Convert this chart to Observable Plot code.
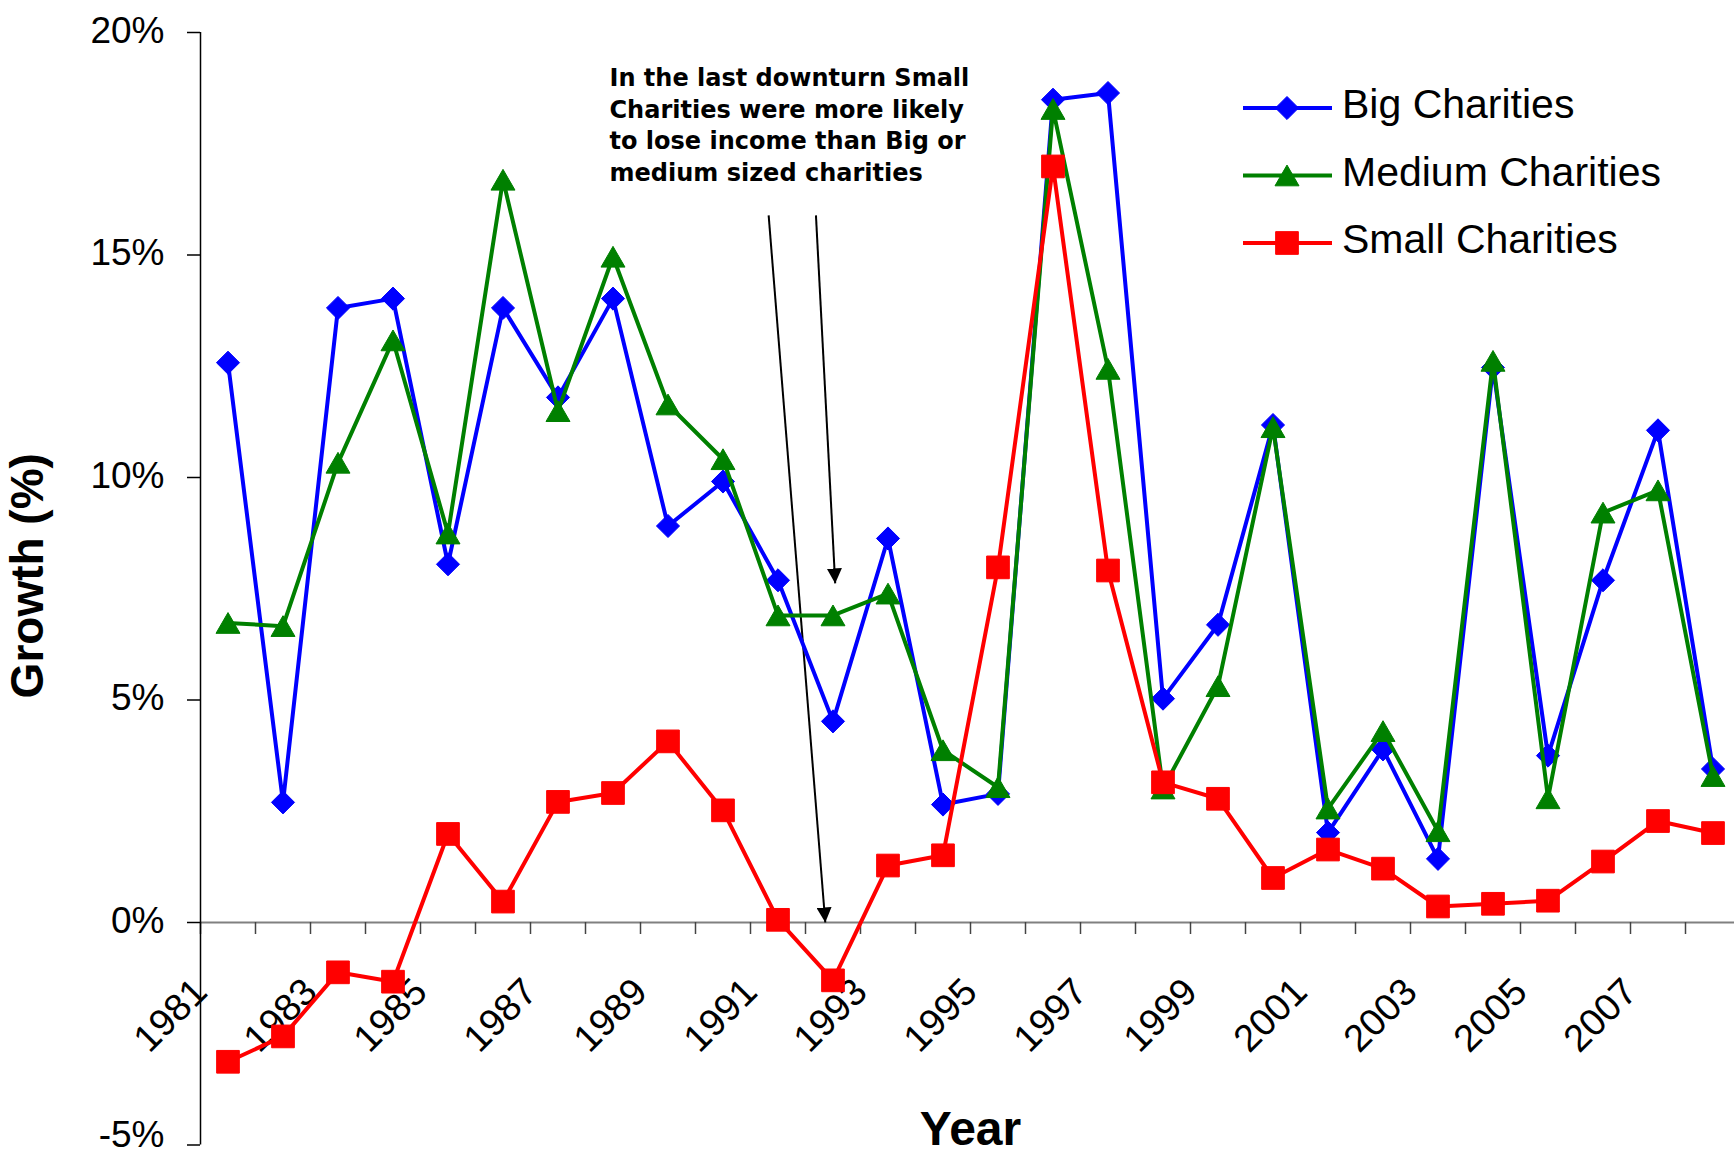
<!DOCTYPE html>
<html>
<head>
<meta charset="utf-8">
<script src="https://cdn.jsdelivr.net/npm/d3@7"></script>
<script src="https://cdn.jsdelivr.net/npm/@observablehq/plot@0.6"></script>
<style>
  html, body { margin: 0; padding: 0; background: #ffffff; }
  #chart svg { display: block; }
</style>
</head>
<body>
<div id="chart"></div>
<script>
// ---------- data ----------
const years = [1981, 1982, 1983, 1984, 1985, 1986, 1987, 1988, 1989, 1990,
               1991, 1992, 1993, 1994, 1995, 1996, 1997, 1998, 1999, 2000,
               2001, 2002, 2003, 2004, 2005, 2006, 2007, 2008];

const bigCharities    = [12.58, 2.70, 13.81, 14.02, 8.05, 13.81, 11.80, 14.02, 8.91, 9.91,
                         7.69, 4.52, 8.63, 2.65, 2.89, 18.49, 18.64, 5.03, 6.69, 11.18,
                         2.02, 3.89, 1.43, 12.47, 3.75, 7.69, 11.06, 3.45];
const mediumCharities = [6.73, 6.66, 10.33, 13.08, 8.74, 16.69, 11.49, 14.96, 11.64, 10.41,
                         6.90, 6.90, 7.39, 3.87, 3.04, 18.28, 12.44, 3.01, 5.31, 11.13,
                         2.56, 4.30, 2.05, 12.62, 2.79, 9.21, 9.71, 3.29];
const smallCharities  = [-3.13, -2.56, -1.12, -1.33, 1.99, 0.47, 2.71, 2.91, 4.07, 2.52,
                         0.06, -1.30, 1.28, 1.51, 7.98, 16.99, 7.91, 3.15, 2.78, 1.00,
                         1.64, 1.21, 0.36, 0.42, 0.49, 1.37, 2.28, 2.01];

const seriesNames   = ["Big Charities", "Medium Charities", "Small Charities"];
const seriesColors  = ["#0000FF", "#008000", "#FF0000"];
const seriesSymbols = ["diamond2", "triangle", "square"];

const tickYears  = [1981, 1982, 1983, 1984, 1985, 1986, 1987, 1988, 1989, 1990,
                    1991, 1992, 1993, 1994, 1995, 1996, 1997, 1998, 1999, 2000,
                    2001, 2002, 2003, 2004, 2005, 2006, 2007, 2008, 2009];
const labelYears = [1981, 1983, 1985, 1987, 1989, 1991, 1993, 1995, 1997, 1999,
                    2001, 2003, 2005, 2007];
const yTicks = [-5, 0, 5, 10, 15, 20];

const annotationText = "In the last downturn Small\nCharities were more likely\nto lose income than Big or\nmedium sized charities";
const arrowStartYear  = [1991.33, 1992.19];
const arrowStartValue = [15.89, 15.89];
const arrowEndYear    = [1992.36, 1992.54];
const arrowEndValue   = [0.0, 7.62];

// ---------- build ----------
const seriesValues = [bigCharities, mediumCharities, smallCharities];
const markerR  = [10.4, 8.9, 12.8];
const markerDy = [0, 3.4, 0];
const lineW = 4;

const seriesMarks = seriesNames.flatMap((name, s) => {
  const rows = years.map((year, i) => ({series: name, year, value: seriesValues[s][i]}));
  return [
    Plot.line(rows, {x: d => d.year + 0.5, y: "value", stroke: seriesColors[s], strokeWidth: lineW, strokeLinejoin: "miter"}),
    Plot.dot(rows, {x: d => d.year + 0.5, y: "value", symbol: seriesSymbols[s], r: markerR[s],
      fill: seriesColors[s], stroke: seriesColors[s], strokeWidth: 1, dy: markerDy[s]})
  ];
});

const arrows = arrowStartYear.map((x1, i) => ({x1, y1: arrowStartValue[i], x2: arrowEndYear[i], y2: arrowEndValue[i]}));

const chart = Plot.plot({
  width: 1734,
  height: 1154,
  marginLeft: 200,
  marginRight: 0,
  marginTop: 32,
  marginBottom: 9.5,
  style: {fontFamily: "'Liberation Sans', Arial, sans-serif", fontSize: "37px", background: "#ffffff", color: "#000"},
  x: {domain: [1981, 2009], range: [200, 1740], axis: null},
  y: {domain: [-5, 20], axis: null},
  marks: [
    // zero line with category ticks
    Plot.ruleY([0], {stroke: "#808080", strokeWidth: 2}),
    Plot.ruleX(tickYears, {x: d => d, y1: 0, y2: 0, insetBottom: -12, stroke: "#444", strokeWidth: 1.5}),
    // y axis line, ticks, labels
    Plot.ruleX([1981], {stroke: "#000", strokeWidth: 1.5}),
    Plot.ruleY(yTicks, {y: d => d, x1: 1981, x2: 1981, insetLeft: -13, stroke: "#000", strokeWidth: 1.5}),
    Plot.text(yTicks.filter(d => d > -5), {x: 1981, y: d => d, text: d => `${d}%`, textAnchor: "end", dx: -36, dy: -1.5, fontSize: 37}),
    Plot.text(yTicks.filter(d => d === -5), {x: 1981, y: d => d, text: d => `${d}%`, textAnchor: "end", dx: -36, dy: -10, fontSize: 37}),
    // x tick labels
    Plot.text(labelYears, {x: d => d, y: 0, text: d => String(d), rotate: -45, textAnchor: "end", dy: 63, fontSize: 38}),
    // axis titles
    Plot.text(["Year"], {frameAnchor: "bottom", textAnchor: "middle", lineAnchor: "bottom", dx: 3, dy: -0.5, fontSize: 48, fontWeight: "bold"}),
    Plot.text(["Growth (%)"], {frameAnchor: "left", textAnchor: "middle", rotate: -90, dx: -172, dy: -13, fontSize: 46, fontWeight: "bold"}),
    // annotation
    Plot.text([annotationText], {frameAnchor: "top-left", textAnchor: "start", lineAnchor: "top", dx: 409, dy: 31,
      fontSize: 24, fontWeight: "bold", fontFamily: "'DejaVu Sans', Verdana, sans-serif", lineHeight: 1.32}),
    Plot.link(arrows, {x1: "x1", y1: "y1", x2: "x2", y2: "y2", stroke: "#000", strokeWidth: 2, className: "annot-arrow"}),
    // series
    ...seriesMarks
  ]
});

document.getElementById("chart").appendChild(chart);

// arrowheads (filled)
const svg = d3.select(chart);
const defs = svg.append("defs");
defs.append("marker")
  .attr("id", "annot-head")
  .attr("viewBox", "0 0 10 10")
  .attr("refX", 10).attr("refY", 5)
  .attr("markerUnits", "userSpaceOnUse")
  .attr("markerWidth", 15).attr("markerHeight", 15)
  .attr("orient", "auto")
  .append("path").attr("d", "M0,0L10,5L0,10Z").attr("fill", "#000");
svg.selectAll(".annot-arrow path").attr("marker-end", "url(#annot-head)");

// legend (inside plot area, upper right)
const symbolTypes = {diamond2: d3.symbolDiamond2, triangle: d3.symbolTriangle, square: d3.symbolSquare};
const legend = svg.append("g").attr("class", "legend").attr("text-anchor", "start");
seriesNames.forEach((name, s) => {
  const cy = 108 + s * 67.5;
  legend.append("line")
    .attr("x1", 1243).attr("x2", 1332).attr("y1", cy).attr("y2", cy)
    .attr("stroke", seriesColors[s]).attr("stroke-width", lineW);
  legend.append("path")
    .attr("d", d3.symbol(symbolTypes[seriesSymbols[s]], Math.PI * markerR[s] * markerR[s])())
    .attr("transform", `translate(1287,${cy + markerDy[s]})`)
    .attr("fill", seriesColors[s])
    .attr("stroke", seriesColors[s]).attr("stroke-width", 1);
  legend.append("text")
    .attr("x", 1342).attr("y", cy + 10)
    .attr("text-anchor", "start")
    .attr("font-size", 41)
    .attr("font-family", "'Liberation Sans', Arial, sans-serif")
    .attr("fill", "#000")
    .text(name);
});
</script>
</body>
</html>
